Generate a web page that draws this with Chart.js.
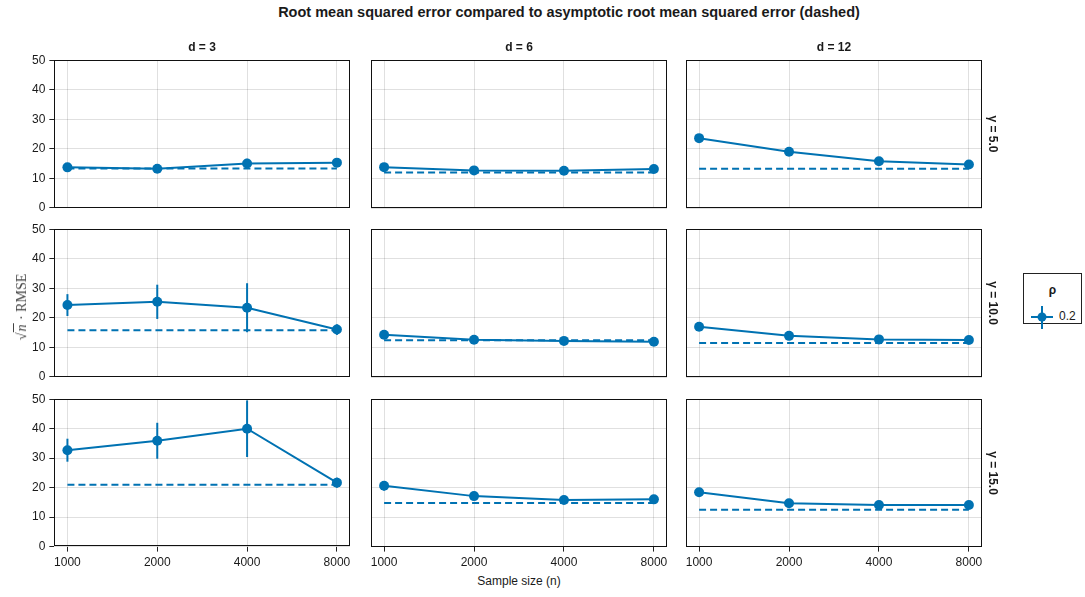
<!DOCTYPE html>
<html>
<head>
<meta charset="utf-8">
<script src="https://cdn.jsdelivr.net/npm/chart.js@4.4.1/dist/chart.umd.min.js"></script>
<style>
  html, body { margin: 0; padding: 0; background: #fff; }
  body { width: 1085px; height: 597px; position: relative; overflow: hidden;
         font-family: 'Liberation Sans', Arial, sans-serif; color: #1a1a1a; }
  .abs { position: absolute; white-space: nowrap; }
  .panel { position: absolute; }
  .title { font-weight: bold; font-size: 14.5px; transform: translate(-50%, -50%); }
  .coltitle { font-weight: bold; font-size: 12px; transform: translate(-50%, -50%); }
  .rowtitle { font-weight: bold; font-size: 12px; transform: translate(-50%, -50%) rotate(90deg); }
  .xlabel { font-size: 12px; transform: translate(-50%, -50%); }
  .ylabel { font-family: 'Liberation Serif', serif; font-weight: normal; font-size: 14px; color: #444;
            transform: translate(-50%, -50%) rotate(-90deg); }
  .ylabel .rad { border-top: 1px solid #444; font-style: italic; padding: 0 1px; }
  .legend { position: absolute; left: 1023px; top: 273px; width: 59px; height: 51px;
            border: 1px solid #222; box-sizing: border-box; }
  .legend .lt { position: absolute; left: 0; width: 100%; top: 9px; text-align: center;
                font-weight: bold; font-size: 12px; }
  .legend .lv { position: absolute; left: 35px; top: 35px; font-size: 12px; }
  .legend svg { position: absolute; left: 6px; top: 31px; }
</style>
</head>
<body>
<script>
// sample sizes on the x axis, facets by dimension (columns) and gamma (rows)
const sampleSizes = [1000, 2000, 4000, 8000];
const dims = [3, 6, 12];
const gammas = ['5.0', '10.0', '15.0'];
const yTicks = [0, 10, 20, 30, 40, 50];

// RMSE (sqrt(n) scaled), one array per panel, values at 1000/2000/4000/8000
const rmse_g5_d3 = [13.7, 13.2, 15.0, 15.3];
const rmse_g5_d6 = [13.8, 12.7, 12.6, 13.2];
const rmse_g5_d12 = [23.6, 19.0, 15.8, 14.7];
const rmse_g10_d3 = [24.3, 25.4, 23.4, 16.0];
const rmse_g10_d6 = [14.3, 12.6, 12.2, 11.9];
const rmse_g10_d12 = [17.0, 13.9, 12.7, 12.5];
const rmse_g15_d3 = [32.7, 35.9, 40.0, 21.7];
const rmse_g15_d6 = [20.6, 17.1, 15.8, 16.0];
const rmse_g15_d12 = [18.4, 14.7, 14.1, 14.1];

// half length of the error bars
const err_g5_d3 = [0.7, 0.5, 1.6, 1.1];
const err_g5_d6 = [0.5, 0.4, 0.4, 0.4];
const err_g5_d12 = [0.6, 0.5, 0.4, 0.4];
const err_g10_d3 = [3.7, 5.8, 8.3, 1.8];
const err_g10_d6 = [0.6, 0.4, 0.4, 0.3];
const err_g10_d12 = [0.6, 0.4, 0.3, 0.3];
const err_g15_d3 = [3.9, 6.1, 9.6, 1.7];
const err_g15_d6 = [1.6, 0.6, 0.5, 0.5];
const err_g15_d12 = [0.7, 0.4, 0.3, 0.3];

// asymptotic RMSE (dashed), for d = 3, 6, 12
const asym_g5 = [13.3, 12.0, 13.3];
const asym_g10 = [15.8, 12.4, 11.5];
const asym_g15 = [21.0, 14.8, 12.5];

const rmseRows = [[rmse_g5_d3, rmse_g5_d6, rmse_g5_d12],
                  [rmse_g10_d3, rmse_g10_d6, rmse_g10_d12],
                  [rmse_g15_d3, rmse_g15_d6, rmse_g15_d12]];
const errRows = [[err_g5_d3, err_g5_d6, err_g5_d12],
                 [err_g10_d3, err_g10_d6, err_g10_d12],
                 [err_g15_d3, err_g15_d6, err_g15_d12]];
const asymRows = [asym_g5, asym_g10, asym_g15];

const blue = '#0072B2';
const colLeft = [54, 371, 686];
const rowTop = [60, 229, 399];
const panelW = 296, panelH = 148;
const font = { family: "'Liberation Sans', Arial, sans-serif", size: 12 };

// frame around each panel + error bars via the scales
const panelExtras = {
  id: 'panelExtras',
  beforeDatasetsDraw(chart) {
    const ctx = chart.ctx, xs = chart.scales.x, ys = chart.scales.y;
    const ds = chart.data.datasets[1];
    ctx.save();
    ctx.strokeStyle = blue;
    ctx.lineWidth = 2;
    ds.data.forEach((p, i) => {
      const e = ds.errors[i];
      const px = xs.getPixelForValue(p.x);
      ctx.beginPath();
      ctx.moveTo(px, ys.getPixelForValue(p.y - e));
      ctx.lineTo(px, ys.getPixelForValue(p.y + e));
      ctx.stroke();
    });
    ctx.restore();
  },
  afterDraw(chart) {
    const a = chart.chartArea, ctx = chart.ctx;
    ctx.save();
    ctx.strokeStyle = '#111';
    ctx.lineWidth = 1;
    ctx.strokeRect(Math.round(a.left) + 0.5, Math.round(a.top) + 0.5,
                   Math.round(a.width) - 1, Math.round(a.height) - 1);
    ctx.restore();
  }
};

function panelConfig(row, col) {
  const vals = rmseRows[row][col];
  const asym = asymRows[row][col];
  return {
    type: 'line',
    data: {
      datasets: [
        { data: sampleSizes.map(n => ({ x: n, y: asym })),
          borderColor: blue, borderWidth: 2, borderDash: [7, 4], pointRadius: 0, fill: false },
        { data: sampleSizes.map((n, i) => ({ x: n, y: vals[i] })), errors: errRows[row][col],
          borderColor: blue, backgroundColor: blue, borderWidth: 2,
          pointRadius: 5, pointBorderWidth: 0, fill: false }
      ]
    },
    options: {
      responsive: false, maintainAspectRatio: false, animation: false,
      layout: { padding: 0 },
      plugins: { legend: { display: false }, tooltip: { enabled: false } },
      scales: {
        x: {
          type: 'logarithmic', min: 904, max: 8850,
          afterBuildTicks: s => { s.ticks = sampleSizes.map(v => ({ value: v })); },
          ticks: { display: row === 2, autoSkip: false, maxRotation: 0, padding: 4,
                   font: font, color: '#1a1a1a', callback: v => String(v) },
          grid: { color: 'rgba(0,0,0,0.12)', drawTicks: row === 2, tickLength: 5, tickColor: '#222' },
          border: { display: false }
        },
        y: {
          min: 0, max: 50,
          afterBuildTicks: s => { s.ticks = yTicks.map(v => ({ value: v })); },
          ticks: { display: col === 0, padding: 4, font: font, color: '#1a1a1a' },
          grid: { color: 'rgba(0,0,0,0.12)', drawTicks: col === 0, tickLength: 5, tickColor: '#222' },
          border: { display: false }
        }
      }
    },
    plugins: [panelExtras]
  };
}

function makePanel(row, col) {
  const wrap = document.createElement('div');
  wrap.className = 'panel';
  document.body.appendChild(wrap);
  // first pass to measure the axis margins
  let cv = document.createElement('canvas');
  cv.width = panelW + 80; cv.height = panelH + 60;
  wrap.appendChild(cv);
  let chart = new Chart(cv, panelConfig(row, col));
  const extraW = chart.width - chart.chartArea.width;
  const extraH = chart.height - chart.chartArea.height;
  chart.destroy();
  wrap.removeChild(cv);
  // second pass at the exact size
  cv = document.createElement('canvas');
  cv.width = panelW + extraW; cv.height = panelH + extraH;
  wrap.appendChild(cv);
  chart = new Chart(cv, panelConfig(row, col));
  wrap.style.left = (colLeft[col] - chart.chartArea.left) + 'px';
  wrap.style.top = (rowTop[row] - chart.chartArea.top) + 'px';
}

for (let r = 0; r < 3; r++) for (let c = 0; c < 3; c++) makePanel(r, c);

function addText(cls, html, x, y) {
  const d = document.createElement('div');
  d.className = 'abs ' + cls;
  d.innerHTML = html;
  d.style.left = x + 'px';
  d.style.top = y + 'px';
  document.body.appendChild(d);
}

addText('title', 'Root mean squared error compared to asymptotic root mean squared error (dashed)', 569, 12);
dims.forEach((d, c) => addText('coltitle', 'd = ' + d, colLeft[c] + panelW / 2, 47));
gammas.forEach((g, r) => addText('rowtitle', 'γ = ' + g, 993, rowTop[r] + panelH / 2));
addText('xlabel', 'Sample size (n)', colLeft[1] + panelW / 2, 581);
addText('ylabel', '√<span class="rad">n</span> · RMSE', 22, 307);

const lg = document.createElement('div');
lg.className = 'legend';
lg.innerHTML = '<div class="lt">ρ</div>' +
  '<svg width="26" height="26" viewBox="0 0 26 26">' +
  '<line x1="1" y1="12" x2="23" y2="12" stroke="' + blue + '" stroke-width="2"/>' +
  '<line x1="12" y1="1" x2="12" y2="24" stroke="' + blue + '" stroke-width="2"/>' +
  '<circle cx="12" cy="12" r="4.5" fill="' + blue + '"/></svg>' +
  '<div class="lv">0.2</div>';
document.body.appendChild(lg);
</script>
</body>
</html>
